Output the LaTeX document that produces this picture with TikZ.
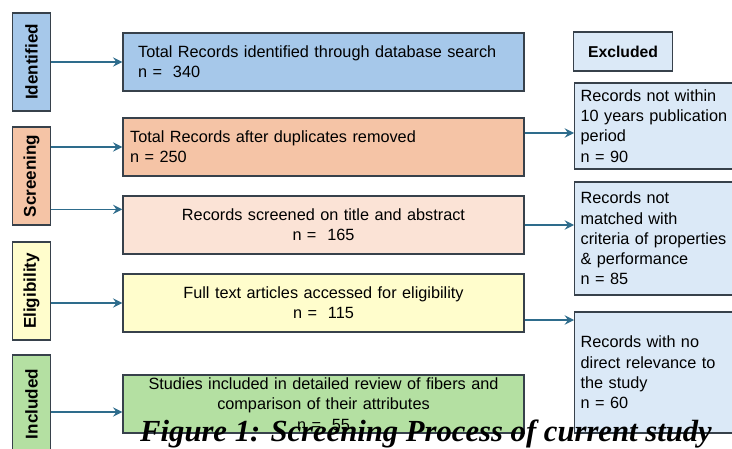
\documentclass[tikz,border=0pt]{standalone}
\usepackage{fontspec}
\setmainfont{Liberation Serif}
\setsansfont{Liberation Sans}
\usepackage{graphicx}
\usetikzlibrary{arrows.meta,calc}

\definecolor{edgec}{RGB}{55,65,75}
\definecolor{arrowc}{RGB}{46,108,140}
\definecolor{idblue}{RGB}{166,200,234}
\definecolor{scrorange}{RGB}{245,196,166}
\definecolor{scrpeach}{RGB}{251,227,214}
\definecolor{eligyellow}{RGB}{255,253,204}
\definecolor{inclgreen}{RGB}{180,224,162}
\definecolor{exclblue}{RGB}{219,233,247}

\tikzset{
  stagebox/.style={draw=edgec, line width=1pt, minimum width=28.5pt, minimum height=73.5pt, inner sep=0pt, font=\sffamily\bfseries\fontsize{12.8}{14}\selectfont},
  mainbox/.style={draw=edgec, line width=1pt, minimum width=300.75pt, minimum height=43.5pt, inner ysep=0pt, text width=290pt, font=\sffamily\fontsize{12.2}{15.2}\selectfont},
  exclbox/.style={draw=edgec, line width=1pt, fill=exclblue, text width=110pt, inner xsep=4.5pt, align=left, font=\sffamily\fontsize{12.2}{15.2}\selectfont},
  flow/.style={draw=arrowc, line width=1.1pt, -{Stealth[length=7pt,width=7pt,inset=2.5pt]}},
}

\begin{document}
\begin{tikzpicture}[x=0.75pt,y=0.75pt,yscale=-1,xscale=1]
\useasboundingbox (0,0) rectangle (732,449);
\clip (0,0) rectangle (732,449);

% Stage boxes
\node[stagebox, fill=idblue] (ident) at (31.5,62) {\rotatebox{90}{Identified}};
\node[stagebox, fill=scrorange] (screen) at (31.5,176) {\rotatebox{90}{Screening}};
\node[stagebox, fill=eligyellow] (elig) at (31.5,291) {\rotatebox{90}{Eligibility}};
\node[stagebox, fill=inclgreen] (incl) at (31.5,404) {\rotatebox{90}{Included}};

% Main boxes
\node[mainbox, fill=idblue, text width=278pt, inner xsep=11.25pt, align=left] (found) at (323.5,62) {Total Records identified through database search\\n = \ 340};
\node[mainbox, fill=scrorange, inner xsep=5.25pt, align=left] (dedup) at (323.5,147) {Total Records after duplicates removed\\n = 250};
\node[mainbox, fill=scrpeach, align=center] (titles) at (323.5,225) {Records screened on title and abstract\\n = \ 165};
\node[mainbox, fill=eligyellow, align=center] (fulltext) at (323.5,303) {Full text articles accessed for eligibility\\n = \ 115};
\node[mainbox, fill=inclgreen, align=center] (studies) at (323.5,404) {Studies included in detailed review of fibers and\\comparison of their attributes\\n = \ 55};

% Excluded column
\node[exclbox, align=center, text width=65pt, minimum height=29.25pt, font=\sffamily\bfseries\fontsize{11.8}{14}\selectfont] (exhead) at (623,51.5) {Excluded};
\node[exclbox, minimum height=64.5pt, anchor=west] (ex1) at (574,126) {Records not within\\10 years publication\\period\\n = 90};
\node[exclbox, minimum height=84.75pt, anchor=west] (ex2) at (574,238.5) {Records not\\matched with\\criteria of properties\\\& performance\\n = 85};
\node[exclbox, minimum height=90.75pt, anchor=west] (ex3) at (574,372.5) {Records with no\\direct relevance to\\the study\\n = 60};

% Arrows stage -> box
\draw[flow] (ident.east) -- (found.west);
\draw[flow] (screen.east |- dedup.west) -- (dedup.west);
\coordinate (t3) at ($(titles.north west)+(0,14)$);
\draw[flow] (screen.east |- t3) -- (t3);
\draw[flow] (elig.east |- fulltext.west) -- (fulltext.west);
\coordinate (t5) at ($(studies.west)+(0,8)$);
\draw[flow] (incl.east |- t5) -- (t5);

% Arrows box -> excluded
\coordinate (d2) at ($(dedup.east)+(0,-14)$);
\draw[flow] (d2) -- (d2 -| ex1.west);
\draw[flow] (titles.east) -- (titles.east -| ex2.west);
\coordinate (f4) at ($(fulltext.east)+(0,17)$);
\draw[flow] (f4) -- (f4 -| ex3.west);

% Caption
\node[font=\rmfamily\bfseries\itshape\fontsize{23}{26}\selectfont, anchor=base, inner sep=0pt] (caption) at (426,441) {Figure 1: Screening Process of current study};
\end{tikzpicture}
\end{document}
